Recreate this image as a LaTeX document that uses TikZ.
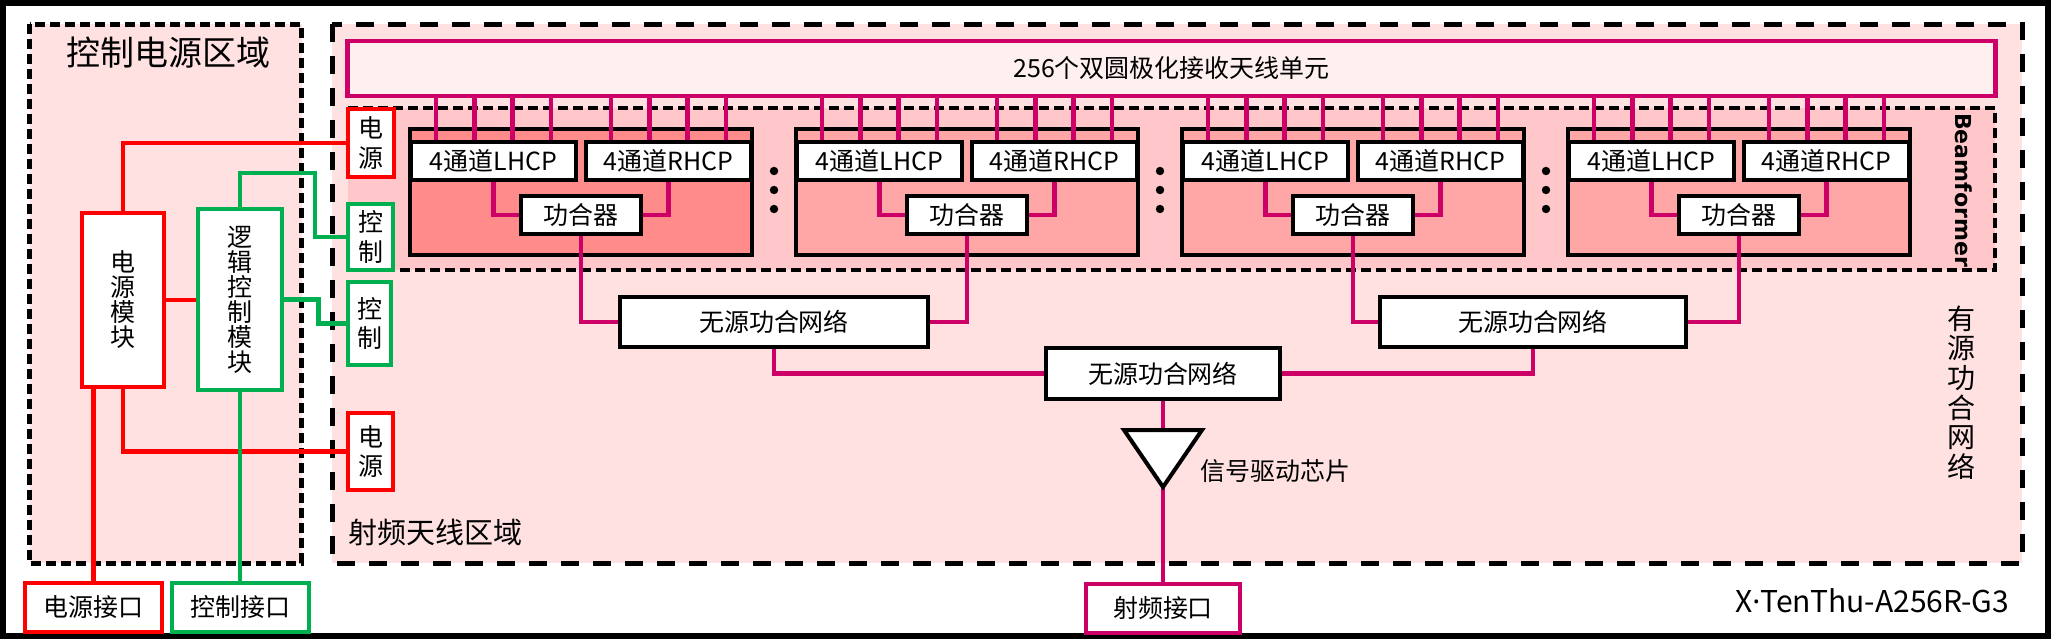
\documentclass[tikz,border=0pt]{standalone}
\usepackage{fontspec}
\usepackage{tikz}
\setmainfont{Noto Sans CJK SC}
\newfontfamily\bmfont{DejaVu Sans}
\newfontfamily\latfont{Noto Sans}

\definecolor{rfpink}{RGB}{255,225,226}
\definecolor{bfpink}{RGB}{255,199,201}
\definecolor{antpink}{RGB}{255,240,240}
\definecolor{modA}{RGB}{255,139,139}
\definecolor{modB}{RGB}{255,167,167}
\definecolor{rfline}{RGB}{204,0,102}
\definecolor{ctlgreen}{RGB}{0,176,80}
\definecolor{pwrred}{RGB}{255,0,0}

\tikzset{
 txt/.style={font=\fontsize{7.1pt}{8.5pt}\selectfont},
 box/.style={draw, fill=white, inner sep=0pt, line width=0.9pt, txt},
 modbox/.style={draw, line width=1.28pt, inner sep=0pt, minimum width=3.42cm, minimum height=1.255cm},
 netbox/.style={box, line width=1.28pt, minimum height=0.5cm},
 pwrbox/.style={box, draw=pwrred, line width=1.28pt, align=center},
 ctlbox/.style={box, draw=ctlgreen, line width=1.28pt, align=center},
 rfbox/.style={box, draw=rfline, line width=1.28pt},
 rf/.style={rfline, line width=1.28pt},
 pwr/.style={pwrred, line width=1.28pt},
 ctl/.style={ctlgreen, line width=1.28pt},
 zone/.style={fill=rfpink, line width=1.42pt, dash pattern=on 5.1pt off 4pt},
 finedash/.style={dash pattern=on 2.85pt off 1.42pt},
 vtxt/.style={font=\fontsize{7.1pt}{7.1pt}\selectfont}
}

\begin{document}
\begin{tikzpicture}[x=0.01cm,y=-0.01cm]
 \useasboundingbox (0,0) rectangle (2051,639);
 \draw[line width=1.7pt] (3,3) rectangle (2048,636);
 \draw[zone, finedash] (29.5,24) rectangle (301.5,563);
 \draw[zone] (332,24) rectangle (2022,563);
 \fill[bfpink] (348,108) rectangle (1995,270);
 \draw[line width=1.14pt, finedash] (348,108) -| (1995,270) -- (348,270);
 \node[font=\fontsize{9.67pt}{9.67pt}\selectfont] (pwrzone) at (168.5,53) {控制电源区域};
 \node[font=\fontsize{8.25pt}{8.25pt}\selectfont, anchor=west, inner sep=0pt] (rfzone) at (348,532) {射频天线区域};
 \node[font=\fontsize{7.97pt}{8.42pt}\selectfont, align=center, inner sep=0pt] (actnet) at (1961,392.5) {有\\源\\功\\合\\网\\络};
 \node[font=\bmfont\bfseries\fontsize{6.26pt}{6.26pt}\selectfont, rotate=-90, inner sep=0pt] (bflbl) at (1964,190) {Beamformer};
 \node[rfbox, fill=antpink, minimum width=16.47cm, minimum height=0.55cm] (ant) at (1171.5,68.5) {256个双圆极化接收天线单元};

 \foreach \i/\c in {1/modA,2/modB,3/modB,4/modB} {
  \pgfmathsetmacro\cx{581+386*(\i-1)}
  \node[modbox, fill=\c] (mod\i) at (\cx,192) {};
  \node[box, minimum width=1.65cm, minimum height=0.38cm] (lhcp\i) at (\cx-87.5,161) {4通道LHCP};
  \node[box, minimum width=1.65cm, minimum height=0.38cm] (rhcp\i) at (\cx+87.5,161) {4通道RHCP};
  \node[box, minimum width=1.2cm, minimum height=0.38cm] (comb\i) at (\cx,215) {功合器};
  \foreach \d in {-57.5,-19,19,57.5} {
   \draw[rf] (lhcp\i.north) ++(\d,0) coordinate (t) -- (t |- ant.south);
   \draw[rf] (rhcp\i.north) ++(\d,0) coordinate (t) -- (t |- ant.south);
  }
  \draw[rf] (lhcp\i.south) |- (comb\i.west);
  \draw[rf] (rhcp\i.south) |- (comb\i.east);
 }
 \foreach \i in {1,2,3}
  \foreach \y in {171,190,209}
   \fill ({774+386*(\i-1)},\y) circle (1.2pt);

 \node[netbox, minimum width=3.08cm] (netA) at (774,322) {无源功合网络};
 \node[netbox, minimum width=3.06cm] (netB) at (1533,322) {无源功合网络};
 \node[netbox, minimum width=2.34cm, minimum height=0.51cm] (netC) at (1163,373.5) {无源功合网络};
 \draw[rf] (comb1.south) |- (netA.west);
 \draw[rf] (comb2.south) |- (netA.east);
 \draw[rf] (comb3.south) |- (netB.west);
 \draw[rf] (comb4.south) |- (netB.east);
 \draw[rf] (netA.south) |- (netC.west);
 \draw[rf] (netB.south) |- (netC.east);

 \node[rfbox, minimum width=1.54cm, minimum height=0.49cm] (rfjack) at (1163,608.5) {射频接口};
 \coordinate (drvin) at (1163,430);
 \coordinate (drvout) at (1163,487);
 \draw[rf] (netC.south) -- (drvin);
 \draw[rf] (drvout) -- (rfjack.north);
 \draw[line width=1.14pt, fill=white, line join=miter] (1124,430) -- (1202,430) -- (drvout) -- cycle;
 \node[txt, anchor=west, inner sep=0pt] (drvlbl) at (1200,471) {信号驱动芯片};
 \node[txt, anchor=east, inner sep=0pt, font=\fontsize{8.54pt}{8.54pt}\selectfont] (model) at (2010,601) {X{\latfont ·}TenThu-A256R-G3};

 \node[pwrbox, vtxt, minimum width=0.82cm, minimum height=1.74cm] (pwrmod) at (123,300) {电\\源\\模\\块};
 \node[ctlbox, vtxt, minimum width=0.84cm, minimum height=1.81cm] (logic) at (240,299.5) {逻\\辑\\控\\制\\模\\块};
 \node[pwrbox, minimum width=0.46cm, minimum height=0.68cm] (pin1) at (371,143) {电\\源};
 \node[ctlbox, minimum width=0.45cm, minimum height=0.66cm] (cin1) at (370.5,237) {控\\制};
 \node[ctlbox, minimum width=0.43cm, minimum height=0.83cm] (cin2) at (369.5,323.5) {控\\制};
 \node[pwrbox, minimum width=0.45cm, minimum height=0.77cm] (pin2) at (370.5,451.5) {电\\源};
 \node[pwrbox, minimum width=1.37cm, minimum height=0.49cm] (pwrjack) at (93.5,607.5) {电源接口};
 \node[ctlbox, minimum width=1.37cm, minimum height=0.49cm] (ctljack) at (240.5,607.5) {控制接口};

 \draw[pwr] (pwrmod.north) |- (pin1.west);
 \draw[pwr] (pwrmod.east) -- (pwrmod.east -| logic.west);
 \draw[pwr] (pwrmod.south) |- (pin2.west);
 \draw[pwr] (pwrmod.south -| pwrjack.north) -- (pwrjack.north);
 \draw[ctl] (logic.north) |- (315,173) |- (cin1.west);
 \draw[ctl] (logic.east) -- ++(34,0) |- (cin2.west);
 \draw[ctl] (logic.south) -- (logic.south |- ctljack.north);
\end{tikzpicture}
\end{document}
